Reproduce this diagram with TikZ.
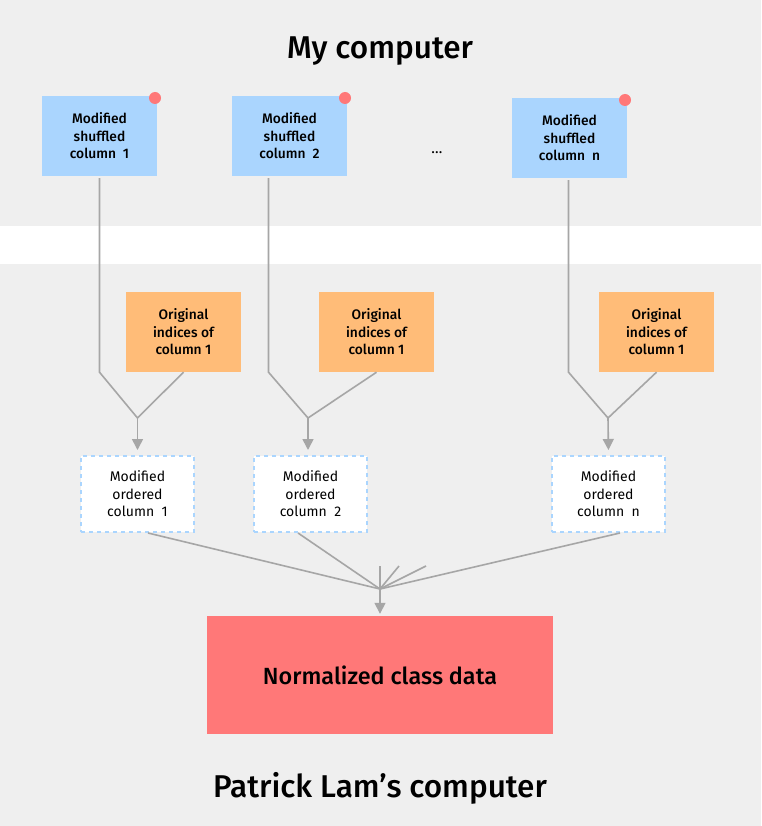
\documentclass[tikz,border=0pt]{standalone}
\usepackage{fontspec}
\setmainfont{Fira Sans}
\newfontfamily\medfont{Fira Sans Medium}
\usetikzlibrary{arrows.meta}
\definecolor{bggray}{HTML}{EFEFEF}
\definecolor{shufblue}{HTML}{AAD5FE}
\definecolor{origorange}{HTML}{FFBC78}
\definecolor{normred}{HTML}{FF7878}
\definecolor{linegray}{HTML}{A6A6A6}
\begin{document}
\begin{tikzpicture}[x=1pt,y=-1pt,
	shufbox/.style={fill=shufblue, minimum width=115pt, minimum height=80pt, inner sep=0pt, align=center, font=\medfont\fontsize{13.8}{17.5}\selectfont},
	origbox/.style={shufbox, fill=origorange},
	ordbox/.style={fill=white, draw=shufblue, line width=2pt, dash pattern=on 4pt off 4pt, minimum width=113pt, minimum height=76pt, inner sep=0pt, align=center, font=\fontsize{14}{17.5}\selectfont},
	pin/.style={circle, fill=normred, minimum size=12pt, inner sep=0pt},
	conn/.style={draw=linegray, line width=1.6pt},
	arr/.style={conn, -{Triangle[width=11pt,length=11pt]}, shorten >=5pt}]
	\fill[bggray] (0,0) rectangle (761,826);
	\fill[white] (0,226) rectangle (761,264);
	\node (mine) at (380,51) {\medfont\fontsize{31.5}{36}\selectfont My computer};
	\node (theirs) at (380,788) {\medfont\fontsize{31.5}{36}\selectfont Patrick Lam’s computer};
	\node[shufbox] (shuf1) at (99.5,136) {Modified\\shuffled\\column~~1};
	\node[shufbox] (shuf2) at (289.5,136) {Modified\\shuffled\\column~~2};
	\node[shufbox] (shufn) at (569.5,138) {Modified\\shuffled\\column~~n};
	\node[pin] (pin1) at (155,98) {};
	\node[pin] (pin2) at (345,98) {};
	\node[pin] (pinn) at (625,100) {};
	\node[font=\fontsize{15}{18}\selectfont] (dots) at (437,153) {\dots};
	\node[origbox] (orig1) at (183.5,332) {Original\\indices of\\column 1};
	\node[origbox] (orig2) at (376.5,332) {Original\\indices of\\column 1};
	\node[origbox] (orign) at (656.5,332) {Original\\indices of\\column 1};
	\node[ordbox] (ord1) at (137.5,494) {Modified\\ordered\\column~~1};
	\node[ordbox] (ord2) at (310.5,494) {Modified\\ordered\\column~~2};
	\node[ordbox] (ordn) at (608.5,494) {Modified\\ordered\\column~~n};
	\node[fill=normred, minimum width=346pt, minimum height=118pt, font=\medfont\fontsize{23.4}{28}\selectfont] (norm) at (380,675) {Normalized class data};
	\coordinate (m1) at (137.5,418);
	\coordinate (m2) at (308,418);
	\coordinate (mn) at (608,418);
	\draw[conn] ([yshift=-2pt]shuf1.south) -- (shuf1.south |- orig1.south) -- (m1) -- (orig1.south);
	\draw[conn] ([yshift=-2pt,xshift=-21pt]shuf2.south) -- ([xshift=-21pt]shuf2.south |- orig2.south) -- (m2) -- (orig2.south);
	\draw[conn] ([yshift=-2pt,xshift=-1pt]shufn.south) -- ([xshift=-1pt]shufn.south |- orign.south) -- (mn) -- (orign.south);
	\draw[arr] (m1) -- (ord1.north);
	\draw[arr] (m2) -- ([xshift=-2.5pt]ord2.north);
	\draw[arr] (mn) -- (ordn.north);
	\coordinate (join) at (380,589);
	\coordinate (stub1) at (380,566);
	\coordinate (stub2) at (399,566);
	\coordinate (stub3) at (426,566);
	\draw[conn] ([xshift=10.5pt]ord1.south) -- (join);
	\draw[conn] ([xshift=-12.5pt]ord2.south) -- (join);
	\draw[conn] ([xshift=11.5pt]ordn.south) -- (join);
	\draw[conn] (join) -- (stub1);
	\draw[conn] (join) -- (stub2);
	\draw[conn] (join) -- (stub3);
	\draw[arr, shorten >=2pt] (join) -- (norm.north);
\end{tikzpicture}
\end{document}
